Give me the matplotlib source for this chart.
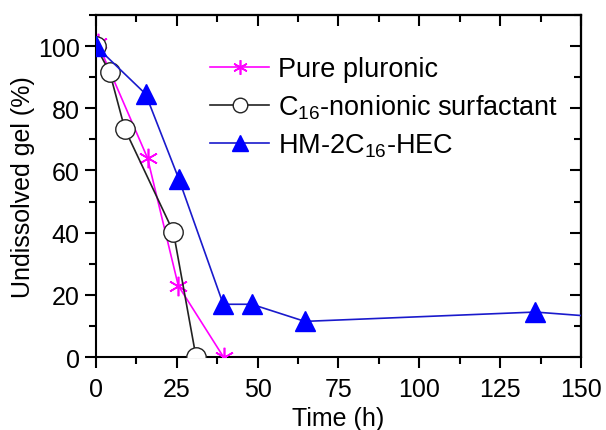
import matplotlib
matplotlib.use("Agg")
import matplotlib.pyplot as plt
from matplotlib.ticker import MultipleLocator

plt.rcParams['font.family'] = ['Liberation Sans', 'DejaVu Sans']
plt.rcParams['mathtext.fontset'] = 'custom'
plt.rcParams['mathtext.rm'] = 'Liberation Sans'
plt.rcParams['mathtext.it'] = 'Liberation Sans'

# data
t_pluronic = [0.6, 16, 25.5, 39.5]
y_pluronic = [101, 64, 23, 0]

t_c16 = [0, 4.3, 9, 24, 31]
y_c16 = [100, 91.6, 73.3, 40.2, 0]

t_hec = [0, 15.4, 25.7, 39.4, 48.2, 64.6, 135.8, 165]
y_hec = [100, 84.6, 57.2, 17, 17, 11.5, 14.5, 12.2]

fig = plt.figure(figsize=(6.06, 4.31), dpi=100)
ax = fig.add_axes([0.158, 0.169, 0.801, 0.794])

ax.plot(t_pluronic, y_pluronic, color='#ff00ff', lw=1.2, marker=(6, 2, 0),
        ms=14, mew=1.2, label='Pure pluronic', zorder=3)
ax.plot(t_c16, y_c16, color='#222222', lw=1.2, marker='o', ms=14,
        mfc='white', mec='#222222', mew=1.0,
        label='C$_{16}$-nonionic surfactant', zorder=4)
ax.plot(t_hec, y_hec, color='#1a1acc', lw=1.2, marker='^', ms=15,
        mfc='#0000ff', mec='#0000ff', label='HM-2C$_{16}$-HEC', zorder=5)

ax.set_xlim(0, 150)
ax.set_ylim(0, 110)
ax.xaxis.set_major_locator(MultipleLocator(25))
ax.xaxis.set_minor_locator(MultipleLocator(12.5))
ax.yaxis.set_minor_locator(MultipleLocator(10))
ax.set_yticks([0, 20, 40, 60, 80, 100])

ax.tick_params(which='both', direction='out', top=False, right=False,
               labelsize=18, width=1.5)
ax.tick_params(which='major', length=8)
ax.tick_params(which='minor', length=5)
ax.tick_params(axis='x', pad=6)

# mirrored inward ticks on top/right
for which, ln in (('major', 8), ('minor', 5)):
    sec = ax.secondary_xaxis('top')
    sec.set_xticks([x for x in range(0, 151, 25)] if which == 'major'
                   else [12.5 + 25 * i for i in range(6)])
    sec.tick_params(direction='in', length=ln, width=1.5, labeltop=False)
    sec.spines['top'].set_linewidth(1.5)
    sey = ax.secondary_yaxis('right')
    sey.set_yticks(list(range(0, 101, 20)) if which == 'major'
                   else [10 + 20 * i for i in range(6)])
    sey.tick_params(direction='in', length=ln, width=1.5, labelright=False)
    sey.spines['right'].set_linewidth(1.5)

for s in ax.spines.values():
    s.set_linewidth(1.5)

ax.set_xlabel('Time (h)', fontsize=18, labelpad=4)
ax.set_ylabel('Undissolved gel (%)', fontsize=18, labelpad=2)

ax.legend(loc='upper left', bbox_to_anchor=(0.235, 0.88), frameon=False,
          fontsize=19.5, handlelength=2.2, handletextpad=0.3,
          labelspacing=0.38, borderaxespad=0, borderpad=0, markerscale=0.75)

fig.savefig('out.png', dpi=100)
